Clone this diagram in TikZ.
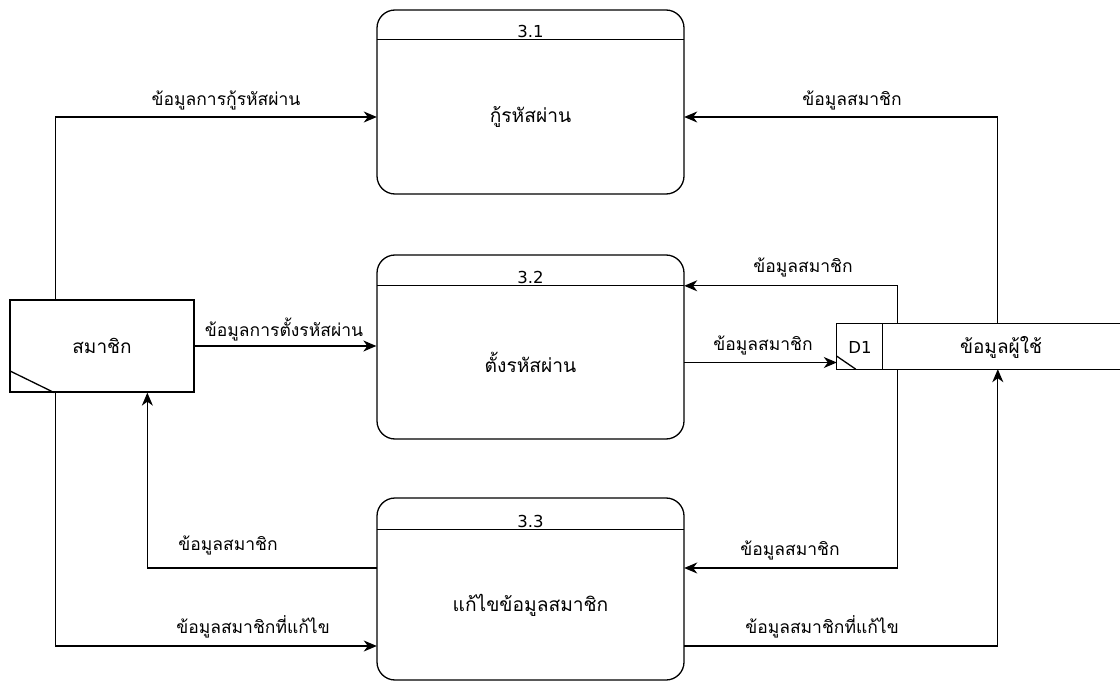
\documentclass[tikz,border=0pt]{standalone}
\usepackage{fontspec}
\newfontfamily\thaifont[Script=Thai]{Loma}
\newfontfamily\latfont{DejaVu Sans}
\usetikzlibrary{arrows.meta,calc}
\tikzset{
  proc/.style={draw, rounded corners=18pt, minimum width=307pt, minimum height=184pt, inner sep=0pt, line width=1.3pt},
  body/.style={minimum width=307pt, inner sep=0pt, font=\thaifont\fontsize{19.2}{22}\selectfont},
  num/.style={inner sep=0pt, font=\latfont\fontsize{16.5}{19}\selectfont},
  lab/.style={inner sep=0pt, font=\thaifont\fontsize{17.5}{20}\selectfont},
  flow/.style={draw, line width=1.3pt, -{Stealth[length=13pt,width=11pt,inset=4pt]}},
  thin/.style={line width=1.3pt},
}
\begin{document}
\begin{tikzpicture}[x=1pt,y=-1pt]
\useasboundingbox (0,0) rectangle (1120,682);
% external entity
\node[draw, thin, minimum width=184pt, minimum height=92pt, inner sep=0pt,
      font=\thaifont\fontsize{19}{22}\selectfont] (ent) at (102,346) {สมาชิก};
\draw[thin] ($(ent.south west)+(0,-22)$) -- ($(ent.south west)+(45,0)$);
% processes
\node[proc] (p1) at (530.5,102) {};
\node[body, minimum height=154pt] (p1b) at (530.5,117) {กู้รหัสผ่าน};
\draw[thin] (p1b.north west) -- (p1b.north east);
\node[num, anchor=base] (p1n) at ($(p1b.north)+(0,-2)$) {3.1};

\node[proc] (p2) at (530.5,347) {};
\node[body, minimum height=153pt] (p2b) at (530.5,362.5) {ตั้งรหัสผ่าน};
\draw[thin] (p2b.north west) -- (p2b.north east);
\node[num, anchor=base] (p2n) at ($(p2b.north)+(0,-2)$) {3.2};

\node[proc, minimum height=182pt] (p3) at (530.5,589) {};
\node[body, minimum height=150pt] (p3b) at (530.5,605) {แก้ไขข้อมูลสมาชิก};
\draw[thin] (p3b.north west) -- (p3b.north east);
\node[num, anchor=base] (p3n) at ($(p3b.north)+(0,-2)$) {3.3};
% data store
\node[minimum width=283pt, minimum height=45pt, inner sep=0pt] (ds) at (978.5,346.5) {};
\draw[thin] (ds.north east) -- (ds.north west) -- (ds.south west) -- (ds.south east);
\draw[thin] ($(ds.north west)+(46,0)$) -- ($(ds.south west)+(46,0)$);
\draw[thin] ($(ds.south west)+(0,-13)$) -- ($(ds.south west)+(19,0)$);
\node[num] (dsid) at (860,347) {D1};
\node[lab, font=\thaifont\fontsize{19}{22}\selectfont] (dsname) at (1001,347) {ข้อมูลผู้ใช้};
% flows
\draw[flow] ($(ent.north west)+(46,0)$) |- (p1b.west);
\draw[flow] ($(ds.north west)+(161,0)$) |- (p1b.east);
\draw[flow] (ent.east) -- (ent.east -| p2.west);
\draw[flow] ($(ds.north west)+(61,0)$) |- (p2b.north east);
\draw[flow] (p2b.east) -- (p2b.east -| ds.west);
\draw[flow] ($(ds.south west)+(61,0)$) |- ($(p3b.east)+(0,-37)$);
\draw[flow] ($(p3b.east)+(0,41)$) -| ($(ds.south west)+(161,0)$);
\draw[flow] ($(p3b.west)+(0,-37)$) -| ($(ent.south west)+(138,0)$);
\draw[flow] ($(ent.south west)+(46,0)$) |- ($(p3b.west)+(0,41)$);
% labels
\node[lab] (l1) at (226,100) {ข้อมูลการกู้รหัสผ่าน};
\node[lab] (l2) at (852,100) {ข้อมูลสมาชิก};
\node[lab] (l3) at (284,330) {ข้อมูลการตั้งรหัสผ่าน};
\node[lab] (l4) at (803,267) {ข้อมูลสมาชิก};
\node[lab] (l5) at (763,345) {ข้อมูลสมาชิก};
\node[lab] (l6) at (790,550) {ข้อมูลสมาชิก};
\node[lab] (l7) at (822,627) {ข้อมูลสมาชิกที่แก้ไข};
\node[lab] (l8) at (228,545) {ข้อมูลสมาชิก};
\node[lab] (l9) at (253,627) {ข้อมูลสมาชิกที่แก้ไข};
\end{tikzpicture}
\end{document}
